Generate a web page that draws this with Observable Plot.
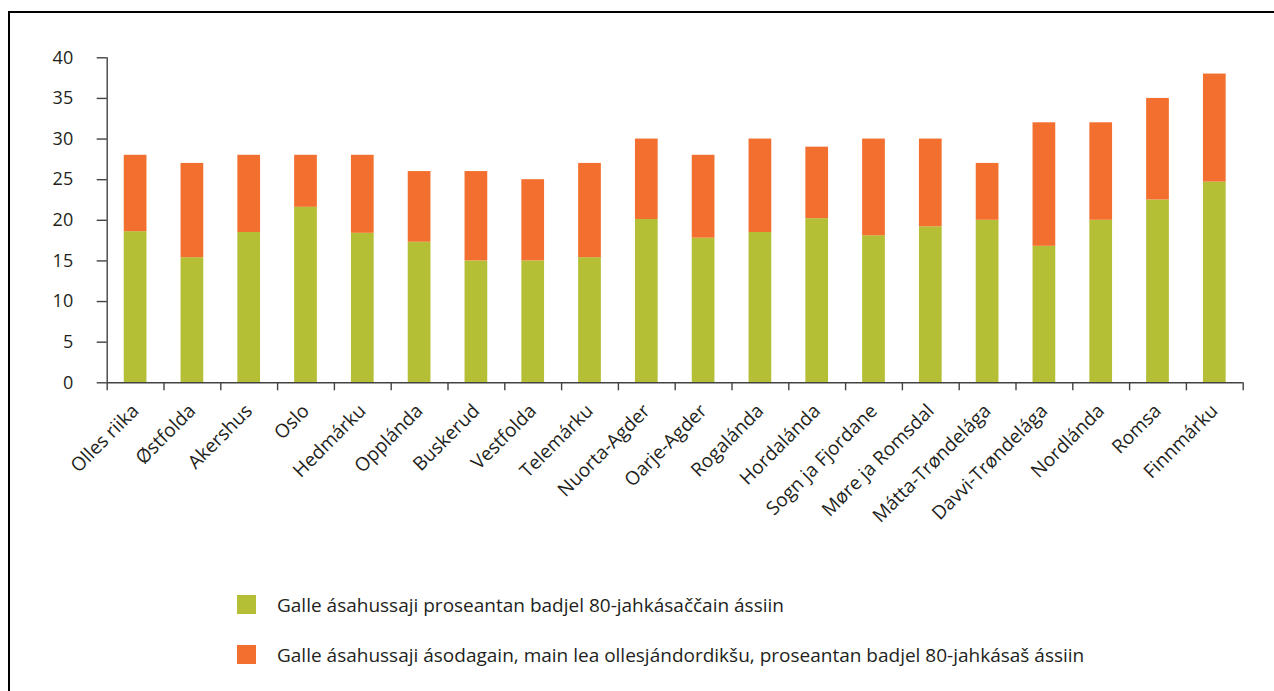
<!DOCTYPE html>
<html>
<head>
<meta charset="utf-8">
<script src="https://cdn.jsdelivr.net/npm/d3@7"></script>
<script src="https://cdn.jsdelivr.net/npm/@observablehq/plot@0.6"></script>
<style>
  html, body { margin: 0; padding: 0; background: #fff; }
  body { width: 1274px; height: 691px; position: relative; overflow: hidden; font-family: "Open Sans", sans-serif; }
  #frame { position: absolute; left: 8px; top: 11px; width: 1300px; height: 700px; border-left: 2px solid #000; border-top: 2px solid #000; }
  #chart { position: absolute; left: 0; top: 0; }
  .legend-item { position: absolute; left: 237px; display: flex; align-items: center; font-size: 19px; color: #231f20; white-space: nowrap; }
  .swatch { width: 19px; height: 19px; margin-right: 21px; flex: none; }
</style>
</head>
<body>
<div id="frame"></div>
<div id="chart"></div>
<div id="legend"></div>
<script>
const categories = ["Olles riika", "Østfolda", "Akershus", "Oslo", "Hedmárku", "Opplánda", "Buskerud", "Vestfolda", "Telemárku", "Nuorta-Agder", "Oarje-Agder", "Rogalánda", "Hordalánda", "Sogn ja Fjordane", "Møre ja Romsdal", "Mátta-Trøndelága", "Davvi-Trøndelága", "Nordlánda", "Romsa", "Finnmárku"];
const greenValues = [18.6, 15.4, 18.5, 21.6, 18.4, 17.3, 15.0, 15.0, 15.4, 20.1, 17.8, 18.5, 20.2, 18.1, 19.2, 20.0, 16.8, 20.0, 22.5, 24.7];
const orangeValues = [9.4, 11.6, 9.5, 6.4, 9.6, 8.7, 11.0, 10.0, 11.6, 9.9, 10.2, 11.5, 8.8, 11.9, 10.8, 7.0, 15.2, 12.0, 12.5, 13.3];
const seriesNames = ["Galle ásahussaji proseantan badjel 80-jahkásaččain ássiin", "Galle ásahussaji ásodagain, main lea ollesjándordikšu, proseantan badjel 80-jahkásaš ássiin"];
const seriesColors = ["#b4bf36", "#f36f2f"];
const yTicks = [0, 5, 10, 15, 20, 25, 30, 35, 40];

const data = [];
categories.forEach((c, i) => {
  data.push({cat: c, series: seriesNames[0], value: greenValues[i]});
  data.push({cat: c, series: seriesNames[1], value: orangeValues[i]});
});

const W = 1274, H = 560;
const mL = 106.7, mR = 31.3, mT = 57.3, mB = H - 382.3;
const step = (W - mL - mR) / categories.length;
const axisColor = "#424242";

const plot = Plot.plot({
  width: W,
  height: H,
  marginLeft: mL,
  marginRight: mR,
  marginTop: mT,
  marginBottom: mB,
  style: {fontFamily: "'Open Sans', sans-serif", fontSize: "18px", color: "#231f20", background: "transparent"},
  x: {domain: categories, paddingInner: 0.6, paddingOuter: 0.3, round: false, label: null},
  y: {domain: [0, 40], label: null},
  color: {domain: seriesNames, range: seriesColors},
  marks: [
    Plot.barY(data, Plot.stackY({x: "cat", y: "value", fill: "series", order: seriesNames})),
    Plot.ruleY([0], {stroke: axisColor, strokeWidth: 1.4}),
    Plot.ruleX([categories[0]], {y1: 0, y2: 40, dx: -step / 2, stroke: axisColor, strokeWidth: 1.4}),
    Plot.ruleX(categories, {y1: 0, y2: 0, insetBottom: -8, dx: -step / 2, stroke: axisColor, strokeWidth: 1.4}),
    Plot.ruleX([categories[categories.length - 1]], {y1: 0, y2: 0, insetBottom: -8, dx: step / 2, stroke: axisColor, strokeWidth: 1.4}),
    Plot.axisY({ticks: yTicks, tickSize: 10, tickPadding: 24, stroke: axisColor, strokeWidth: 1.4, fill: "#231f20", fontSize: 18, label: null}),
    Plot.axisX({tickSize: 0, tickRotate: -45, tickPadding: 25, dx: 0, fill: "#231f20", fontSize: 19, label: null})
  ]
});
document.getElementById("chart").appendChild(plot);

const legend = document.getElementById("legend");
const tops = [595, 645];
seriesNames.forEach((name, i) => {
  const item = document.createElement("div");
  item.className = "legend-item";
  item.style.top = (tops[i] - 2) + "px";
  item.style.height = "23px";
  const sw = document.createElement("div");
  sw.className = "swatch";
  sw.style.background = seriesColors[i];
  const t = document.createElement("span");
  t.textContent = name;
  item.appendChild(sw);
  item.appendChild(t);
  legend.appendChild(item);
});
</script>
</body>
</html>
